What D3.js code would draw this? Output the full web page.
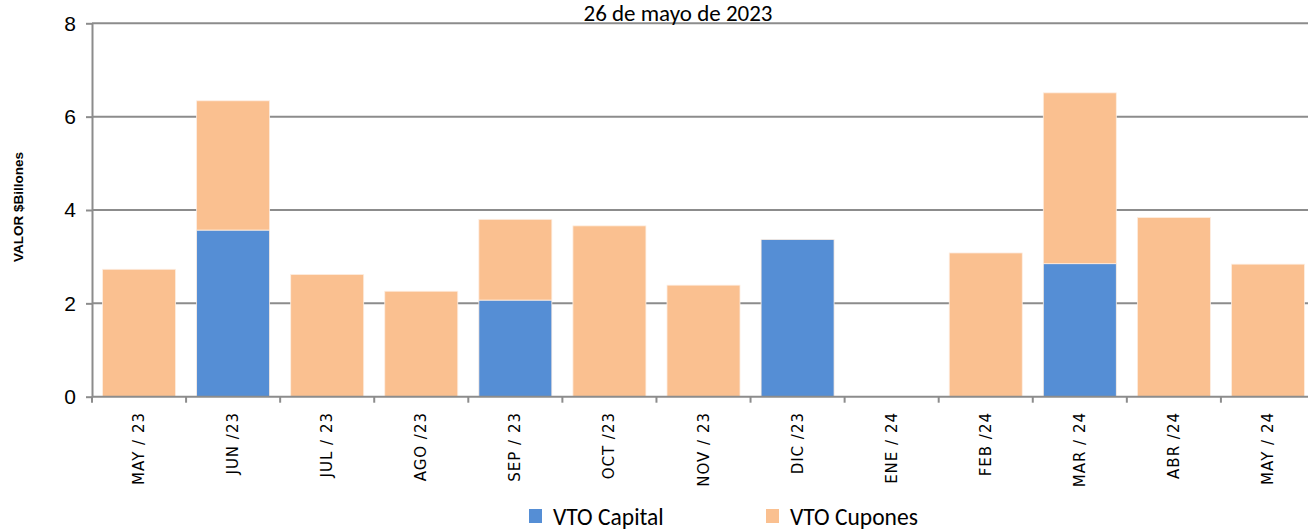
<!DOCTYPE html>
<html>
<head>
<meta charset="utf-8">
<script src="https://cdn.jsdelivr.net/npm/d3@7"></script>
<style>
  html, body { margin: 0; padding: 0; background: #fff; }
  svg { display: block; }
</style>
</head>
<body>
<svg id="chart" width="1308" height="530"></svg>
<script>
// Vencimientos mensuales (billones de pesos)
const categories = ["MAY / 23", "JUN /23", "JUL / 23", "AGO /23", "SEP / 23", "OCT /23", "NOV / 23",
                    "DIC /23", "ENE / 24", "FEB /24", "MAR / 24", "ABR /24", "MAY / 24"];
const capital = [0, 3.57, 0, 0, 2.07, 0, 0, 3.37, 0, 0, 2.85, 0, 0];
const cupones = [2.73, 2.77, 2.62, 2.26, 1.73, 3.66, 2.39, 0, 0, 3.08, 3.66, 3.84, 2.84];
const yTicks = [0, 2, 4, 6, 8];
const seriesNames = ["VTO Capital", "VTO Cupones"];

const colors = { "VTO Capital": "#558ED5", "VTO Cupones": "#FAC090" };
const narrowFont = "Carlito, 'Liberation Sans Narrow', 'Open Sans', sans-serif";

const svg = d3.select("#chart");
const plotLeft = 92, plotRight = 1315, plotTop = 23.3, plotBottom = 396.7;

const rows = categories.map((c, i) => ({ cat: c, "VTO Capital": capital[i], "VTO Cupones": cupones[i] }));
const stacked = d3.stack().keys(seriesNames)(rows);

const x = d3.scaleBand().domain(categories).range([plotLeft, plotRight])
  .paddingInner(0.224).paddingOuter(0.112);
const xEdges = d3.scaleBand().domain(categories).range([plotLeft, plotRight]).padding(0);
const y = d3.scaleLinear().domain([0, 8]).range([plotBottom, plotTop]);

// horizontal gridlines
svg.append("g").selectAll("line").data(yTicks.filter(d => d > 0)).join("line")
  .attr("x1", plotLeft).attr("x2", 1308)
  .attr("y1", d => y(d)).attr("y2", d => y(d))
  .attr("stroke", "#8c8c8c").attr("stroke-width", 2);

// bars
svg.append("g").selectAll("g").data(stacked).join("g")
  .attr("fill", d => colors[d.key])
  .selectAll("rect").data(d => d.filter(p => p[1] - p[0] > 0)).join("rect")
  .attr("x", d => x(d.data.cat))
  .attr("width", x.bandwidth())
  .attr("y", d => y(d[1]))
  .attr("height", d => y(d[0]) - y(d[1]))
  .attr("stroke", "#fdeee2").attr("stroke-width", 0.8);

// y axis
const yAxis = d3.axisLeft(y).tickValues(yTicks).tickSize(6).tickPadding(10).tickSizeOuter(0);
const gy = svg.append("g").attr("transform", `translate(${plotLeft},0)`).call(yAxis);
gy.select(".domain").attr("stroke", "#8c8c8c").attr("stroke-width", 2);
gy.selectAll(".tick line").attr("stroke", "#8c8c8c").attr("stroke-width", 2);
gy.selectAll(".tick text")
  .attr("font-family", "'Liberation Sans', Arial, sans-serif")
  .attr("font-size", 21).attr("fill", "#000");

// x axis baseline with ticks at category boundaries
svg.append("line").attr("x1", plotLeft).attr("x2", 1308)
  .attr("y1", plotBottom).attr("y2", plotBottom)
  .attr("stroke", "#8c8c8c").attr("stroke-width", 2);
svg.append("g").selectAll("line")
  .data(categories.map(c => xEdges(c)))
  .join("line")
  .attr("x1", d => d).attr("x2", d => d)
  .attr("y1", plotBottom).attr("y2", plotBottom + 6)
  .attr("stroke", "#8c8c8c").attr("stroke-width", 2);

// rotated category labels
svg.append("g").selectAll("text").data(categories).join("text")
  .attr("transform", d => `translate(${x(d) + x.bandwidth() / 2 + 5},412) rotate(-90)`)
  .attr("text-anchor", "end")
  .attr("font-family", "'DejaVu Sans', Verdana, sans-serif")
  .attr("font-size", 15)
  .attr("letter-spacing", 1)
  .attr("fill", "#000")
  .text(d => d);

// y axis title
svg.append("text")
  .attr("transform", "translate(23,207) rotate(-90)")
  .attr("text-anchor", "middle")
  .attr("font-family", "'Liberation Sans', Arial, sans-serif")
  .attr("font-weight", "bold")
  .attr("font-size", 13.5)
  .text("VALOR $Billones");

// chart title
svg.append("text")
  .attr("x", 678).attr("y", 21)
  .attr("text-anchor", "middle")
  .attr("font-family", narrowFont)
  .attr("font-size", 23)
  .text("26 de mayo de 2023");

// legend
const legendItems = [{ name: "VTO Capital", x: 529 }, { name: "VTO Cupones", x: 766 }];
const lg = svg.append("g").selectAll("g").data(legendItems).join("g")
  .attr("transform", d => `translate(${d.x},507)`);
lg.append("rect").attr("width", 13).attr("height", 14).attr("y", 2)
  .attr("fill", d => colors[d.name]);
lg.append("text").attr("x", 24).attr("y", 18)
  .attr("font-family", narrowFont)
  .attr("font-size", 23.5)
  .text(d => d.name);
</script>
</body>
</html>
